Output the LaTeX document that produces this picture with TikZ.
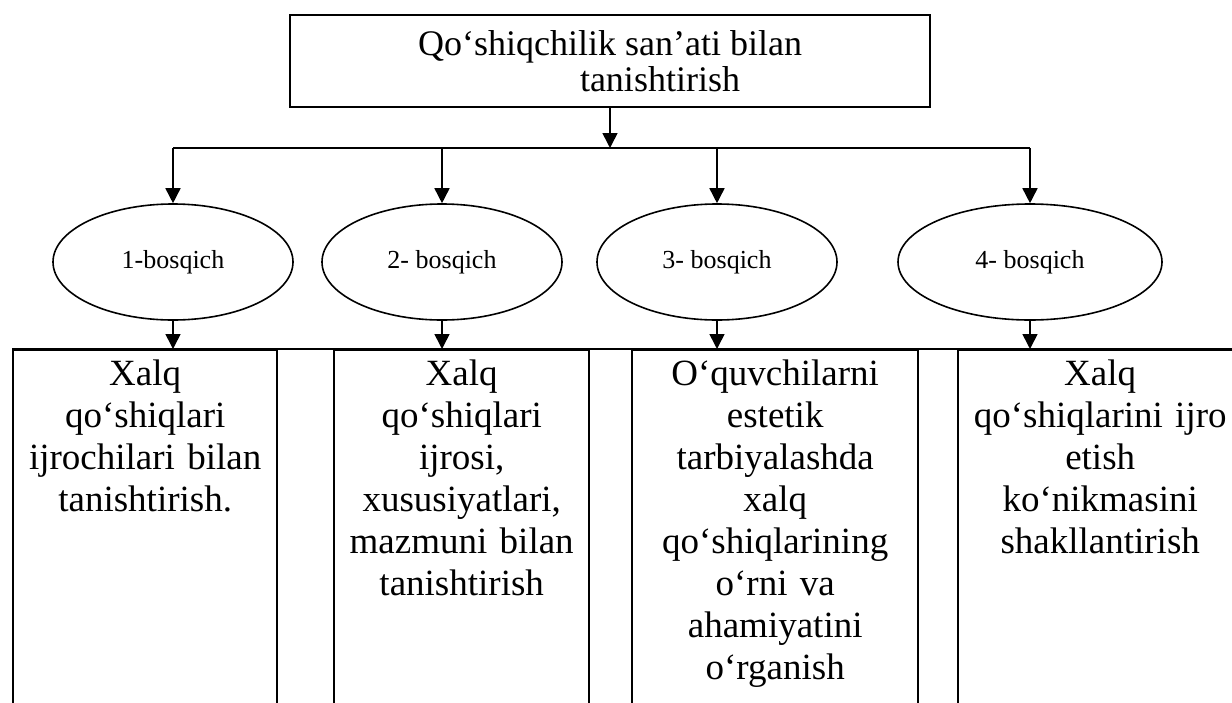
\documentclass[tikz,border=0pt]{standalone}
\usepackage{fontspec}
\setmainfont{Liberation Serif}
\usetikzlibrary{shapes.geometric,arrows.meta}

\begin{document}
\begin{tikzpicture}[
    x=0.5pt, y=-0.5pt,
    theme/.style={rectangle, draw, line width=1.2pt, minimum width=320pt, minimum height=46pt, align=center, font=\fontsize{18}{18}\selectfont},
    stage/.style={ellipse, draw, line width=0.8pt, inner sep=0pt, minimum height=58pt, font=\fontsize{13}{15}\selectfont},
    task/.style={rectangle, draw, line width=1.2pt, anchor=north west, inner xsep=0pt, inner ysep=5pt, align=center, text depth=200pt, font=\fontsize{18.5}{21}\selectfont},
    arrow/.style={-{Triangle[length=7.5pt,width=7.5pt]}, line width=0.8pt}
]
    \useasboundingbox (0,0) rectangle (1232,702);

    % Theme
    \node[theme] (theme) at (610,61) {Qo‘shiqchilik san’ati bilan\\\hspace*{50pt}tanishtirish};
    \coordinate (hub) at (610,148);

    % Stages
    \node[stage, minimum width=120pt] (st1) at (173,262) {1-bosqich};
    \node[stage, minimum width=120pt] (st2) at (442,262) {2- bosqich};
    \node[stage, minimum width=120pt] (st3) at (717,262) {3- bosqich};
    \node[stage, minimum width=132pt] (st4) at (1030,262) {4- bosqich};

    % Tasks
    \node[task, text width=132pt] (task1) at (12,349) {Xalq\\qo‘shiqlari\\ijrochilari bilan\\tanishtirish.};
    \node[task, text width=127.5pt] (task2) at (333,349) {Xalq\\qo‘shiqlari\\ijrosi,\\xususiyatlari,\\mazmuni bilan\\tanishtirish};
    \node[task, text width=143pt] (task3) at (631,349) {O‘quvchilarni\\estetik\\tarbiyalashda\\xalq\\qo‘shiqlarining\\o‘rni va\\ahamiyatini\\o‘rganish};
    \node[task, text width=142pt] (task4) at (957,349) {Xalq\\qo‘shiqlarini ijro\\etish\\ko‘nikmasini\\shakllantirish};
    \draw[line width=1.2pt] (task1.north west) -- (task4.north east);

    % Arrows
    \draw[arrow] (theme) -- (hub);
    \draw[line width=0.8pt] (st1.north |- hub) -- (st4.north |- hub);
    \foreach \s in {st1,st2,st3,st4}
        \draw[arrow] (\s.north |- hub) -- (\s.north);

    \draw[arrow] (st1.south) -- (st1.south |- task1.north);
    \draw[arrow] (st2.south) -- (st2.south |- task2.north);
    \draw[arrow] (st3.south) -- (st3.south |- task3.north);
    \draw[arrow] (st4.south) -- (st4.south |- task4.north);

\end{tikzpicture}
\end{document}
